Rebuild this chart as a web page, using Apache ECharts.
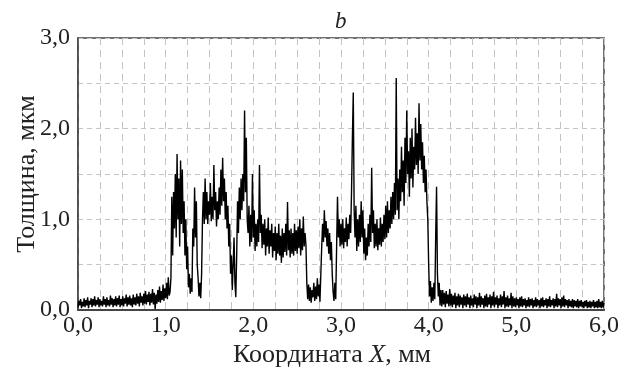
<!DOCTYPE html>
<html>
<head>
<meta charset="utf-8">
<script src="https://cdn.jsdelivr.net/npm/echarts@6/dist/echarts.min.js"></script>
<style>
  html, body { margin: 0; padding: 0; background: #fff; }
  #chart { width: 626px; height: 369px; }
</style>
</head>
<body>
<div id="chart"></div>
<script>
// профиль толщины: [X, мм ; толщина, мкм], по участкам
var baseLeft = [[0.00,0.03],[0.01,0.10],[0.02,0.05],[0.03,0.12],[0.04,0.02],[0.05,0.09],[0.06,0.04],[0.07,0.13],[0.08,0.03],[0.09,0.11],
    [0.10,0.05],[0.11,0.14],[0.12,0.02],[0.13,0.10],[0.14,0.06],[0.15,0.13],[0.16,0.03],[0.17,0.12],[0.18,0.05],[0.19,0.15],
    [0.20,0.04],[0.21,0.11],[0.22,0.06],[0.23,0.14],[0.24,0.03],[0.25,0.12],[0.26,0.05],[0.27,0.10],[0.28,0.04],[0.29,0.15],
    [0.30,0.06],[0.31,0.12],[0.32,0.03],[0.33,0.14],[0.34,0.05],[0.35,0.11],[0.36,0.04],[0.37,0.16],[0.38,0.06],[0.39,0.13],
    [0.40,0.03],[0.41,0.12],[0.42,0.05],[0.43,0.15],[0.44,0.04],[0.45,0.13],[0.46,0.06],[0.47,0.16],[0.48,0.03],[0.49,0.12],
    [0.50,0.05],[0.51,0.15],[0.52,0.04],[0.53,0.13],[0.54,0.07],[0.55,0.17],[0.56,0.04],[0.57,0.14],[0.58,0.06],[0.59,0.16],
    [0.60,0.05],[0.61,0.13],[0.62,0.03],[0.63,0.17],[0.64,0.06],[0.65,0.14],[0.66,0.05],[0.67,0.18],[0.68,0.07],[0.69,0.15],
    [0.70,0.04],[0.71,0.19],[0.72,0.08],[0.73,0.15],[0.74,0.05],[0.75,0.18],[0.76,0.07],[0.77,0.21],[0.78,0.06],[0.79,0.17],
    [0.80,0.09],[0.81,0.20],[0.82,0.05],[0.83,0.18],[0.84,0.08],[0.85,0.23],[0.86,0.06],[0.87,0.19],[0.88,0.01],[0.89,0.17],
    [0.90,0.07],[0.91,0.22],[0.92,0.09],[0.93,0.26],[0.94,0.08],[0.95,0.21],[0.96,0.11],[0.97,0.28],[0.98,0.10],[0.99,0.24],
    [1.00,0.13],[1.01,0.30],[1.02,0.12],[1.03,0.36],[1.04,0.16]];
var firstStep = [[1.05,0.20],[1.06,0.35],[1.07,1.25],[1.08,0.60],[1.09,1.30],[1.10,0.90],[1.11,1.50],[1.12,0.80],[1.13,1.72],[1.14,1.00],[1.15,1.45],[1.16,0.70],[1.17,1.65],[1.18,0.95],[1.19,1.55],[1.20,0.85],[1.21,1.20],[1.22,0.60],[1.23,1.00],[1.24,0.45],[1.25,0.70],[1.26,0.25],[1.27,0.40],[1.28,0.18],[1.29,0.35],[1.30,0.20],[1.31,0.90],[1.32,0.70],[1.33,1.35],[1.34,0.80],[1.35,1.20],[1.36,0.50],[1.37,0.35],[1.38,0.15],[1.39,0.30],[1.40,0.13],[1.41,0.40],[1.42,1.00],[1.43,1.30],[1.44,0.95],[1.45,1.45]];
var midPlateau = [[1.46,1.00],[1.47,1.30],[1.48,0.95],[1.49,1.20],[1.50,1.05],[1.51,1.40],[1.52,0.98],[1.53,1.25],[1.54,1.00],[1.55,1.60],[1.56,1.10],[1.57,1.30],[1.58,0.92],[1.59,1.20],[1.60,1.00],[1.61,1.35],[1.62,1.05],[1.63,1.55],[1.64,1.15],[1.65,1.68],[1.66,1.20],[1.67,1.45],[1.68,1.00],[1.69,1.30],[1.70,0.90],[1.71,1.15],[1.72,0.70],[1.73,0.95],[1.74,0.40],[1.75,0.60],[1.76,0.22],[1.77,0.50],[1.78,0.80],[1.79,0.30],[1.80,0.14],[1.81,0.60],[1.82,1.20],[1.83,0.85],[1.84,1.35],[1.85,1.00],[1.86,1.45],[1.87,1.10],[1.88,1.50],[1.89,1.20],[1.90,2.20],[1.91,1.30],[1.92,1.90],[1.93,1.00]];
var lowPlateau = [[1.94,0.85],[1.95,1.15],[1.96,0.70],[1.97,1.05],[1.98,0.75],[1.99,1.50],[2.00,0.80],[2.01,1.10],[2.02,0.65],[2.03,0.95],[2.04,0.70],[2.05,1.00],[2.06,0.75],[2.07,1.60],[2.08,0.85],[2.09,1.05],[2.10,0.68],[2.11,0.95],[2.12,0.72],[2.13,1.00],[2.14,0.60],[2.15,0.90],[2.16,0.70],[2.17,1.02],[2.18,0.62],[2.19,0.88],[2.20,0.70],[2.21,0.95],[2.22,0.58],[2.23,0.85],[2.24,0.65],[2.25,0.92],[2.26,0.55],[2.27,0.85],[2.28,0.62],[2.29,0.95],[2.30,0.60],[2.31,0.82],[2.32,0.52],[2.33,0.90],[2.34,0.58],[2.35,0.85],[2.36,0.64],[2.37,0.95],[2.38,0.60],[2.39,1.19],[2.40,0.66],[2.41,0.88],[2.42,0.58],[2.43,0.90],[2.44,0.62],[2.45,0.85],[2.46,0.60],[2.47,0.95],[2.48,0.65],[2.49,0.88],[2.50,0.62],[2.51,0.92],[2.52,0.68],[2.53,1.00],[2.54,0.60],[2.55,0.90],[2.56,0.66],[2.57,1.03],[2.58,0.70],[2.59,0.85],[2.60,0.72]];
var gapPart = [[2.61,0.30],[2.62,0.12],[2.63,0.28],[2.64,0.10],[2.65,0.25],[2.66,0.08],[2.67,0.22],[2.68,0.14],[2.69,0.30],[2.70,0.10],[2.71,0.26],[2.72,0.12],[2.73,0.35],[2.74,0.15],[2.75,0.28],[2.76,0.09],[2.77,0.40],[2.78,0.70],[2.79,0.95],[2.80,0.75],[2.81,1.10],[2.82,0.80],[2.83,0.98],[2.84,0.70],[2.85,0.90],[2.86,0.62],[2.87,0.85],[2.88,0.55],[2.89,0.75],[2.90,0.40],[2.91,0.20],[2.92,0.10],[2.93,0.30],[2.94,0.12],[2.95,0.70],[2.96,1.25],[2.97,0.80]];
var rightPlateau = [[2.98,1.00],[2.99,0.70],[3.00,0.95],[3.01,0.72],[3.02,1.00],[3.03,0.68],[3.04,0.90],[3.05,0.75],[3.06,1.02],[3.07,0.70],[3.08,0.95],[3.09,0.78],[3.10,1.05],[3.11,0.85],[3.12,1.30],[3.13,1.90],[3.14,2.40],[3.15,1.10],[3.16,0.80],[3.17,1.15],[3.18,0.65],[3.19,1.00],[3.20,0.70],[3.21,1.05],[3.22,0.75],[3.23,1.20],[3.24,0.80],[3.25,1.10],[3.26,0.62],[3.27,0.90],[3.28,0.55],[3.29,0.80],[3.30,0.60],[3.31,0.95],[3.32,0.70],[3.33,1.05],[3.34,0.75],[3.35,1.57],[3.36,0.85],[3.37,1.10],[3.38,0.68],[3.39,0.95],[3.40,0.70],[3.41,1.00],[3.42,0.66],[3.43,0.90],[3.44,0.72],[3.45,1.02],[3.46,0.70],[3.47,0.95],[3.48,0.75],[3.49,1.05],[3.50,0.78],[3.51,1.15],[3.52,0.80],[3.53,1.20],[3.54,0.85],[3.55,1.10],[3.56,0.90]];
var peakPart = [[3.57,1.25],[3.58,0.95],[3.59,1.30],[3.60,1.00],[3.61,1.40],[3.62,1.05],[3.63,2.56],[3.64,1.10],[3.65,1.45],[3.66,1.00],[3.67,1.55],[3.68,1.20],[3.69,1.80],[3.70,1.30],[3.71,1.65],[3.72,1.15],[3.73,1.90],[3.74,1.40],[3.75,2.20],[3.76,1.50],[3.77,1.75],[3.78,1.25],[3.79,1.90],[3.80,1.45],[3.81,2.00],[3.82,1.35],[3.83,1.80],[3.84,1.55],[3.85,2.12],[3.86,1.60],[3.87,1.95],[3.88,1.50],[3.89,2.28],[3.90,1.65],[3.91,2.05],[3.92,1.55],[3.93,1.85],[3.94,1.40],[3.95,1.70],[3.96,1.30],[3.97,1.55],[3.98,1.20],[3.99,1.00]];
var dropPart = [[4.00,0.50],[4.01,0.15],[4.02,0.32],[4.03,0.08],[4.04,0.25],[4.05,0.10],[4.06,0.30],[4.07,0.12],[4.08,0.80],[4.09,1.36],[4.10,0.40],[4.11,0.15],[4.12,0.30],[4.13,0.05],[4.14,0.22]];
var baseRight = [[4.15,0.04],[4.16,0.22],[4.17,0.06],[4.18,0.19],[4.19,0.03],[4.20,0.21],[4.21,0.07],[4.22,0.17],[4.23,0.04],[4.24,0.23],
    [4.25,0.05],[4.26,0.18],[4.27,0.03],[4.28,0.16],[4.29,0.06],[4.30,0.19],[4.31,0.02],[4.32,0.15],[4.33,0.05],[4.34,0.18],
    [4.35,0.03],[4.36,0.16],[4.37,0.06],[4.38,0.14],[4.39,0.02],[4.40,0.17],[4.41,0.05],[4.42,0.15],[4.43,0.03],[4.44,0.18],
    [4.45,0.06],[4.46,0.14],[4.47,0.02],[4.48,0.16],[4.49,0.05],[4.50,0.13],[4.51,0.03],[4.52,0.17],[4.53,0.06],[4.54,0.15],
    [4.55,0.02],[4.56,0.14],[4.57,0.05],[4.58,0.19],[4.59,0.03],[4.60,0.15],[4.61,0.06],[4.62,0.13],[4.63,0.02],[4.64,0.16],
    [4.65,0.04],[4.66,0.18],[4.67,0.03],[4.68,0.14],[4.69,0.06],[4.70,0.17],[4.71,0.02],[4.72,0.15],[4.73,0.05],[4.74,0.20],
    [4.75,0.03],[4.76,0.14],[4.77,0.06],[4.78,0.16],[4.79,0.02],[4.80,0.13],[4.81,0.05],[4.82,0.17],[4.83,0.03],[4.84,0.15],
    [4.85,0.06],[4.86,0.21],[4.87,0.02],[4.88,0.14],[4.89,0.04],[4.90,0.16],[4.91,0.03],[4.92,0.13],[4.93,0.05],[4.94,0.19],
    [4.95,0.02],[4.96,0.15],[4.97,0.04],[4.98,0.13],[4.99,0.03],[5.00,0.14],[5.01,0.05],[5.02,0.12],[5.03,0.02],[5.04,0.14],
    [5.05,0.04],[5.06,0.15],[5.07,0.03],[5.08,0.12],[5.09,0.05],[5.10,0.13],[5.11,0.02],[5.12,0.11],[5.13,0.04],[5.14,0.14],
    [5.15,0.03],[5.16,0.12],[5.17,0.05],[5.18,0.13],[5.19,0.02],[5.20,0.11],[5.21,0.04],[5.22,0.14],[5.23,0.03],[5.24,0.12],
    [5.25,0.05],[5.26,0.11],[5.27,0.02],[5.28,0.13],[5.29,0.04],[5.30,0.14],[5.31,0.03],[5.32,0.11],[5.33,0.05],[5.34,0.13],
    [5.35,0.02],[5.36,0.12],[5.37,0.04],[5.38,0.15],[5.39,0.03],[5.40,0.11],[5.41,0.05],[5.42,0.13],[5.43,0.02],[5.44,0.12],
    [5.45,0.04],[5.46,0.18],[5.47,0.03],[5.48,0.13],[5.49,0.05],[5.50,0.12],[5.51,0.02],[5.52,0.14],[5.53,0.04],[5.54,0.16],
    [5.55,0.03],[5.56,0.12],[5.57,0.05],[5.58,0.11],[5.59,0.02],[5.60,0.12],[5.61,0.04],[5.62,0.10],[5.63,0.03],[5.64,0.12],
    [5.65,0.02],[5.66,0.11],[5.67,0.04],[5.68,0.10],[5.69,0.03],[5.70,0.12],[5.71,0.02],[5.72,0.10],[5.73,0.04],[5.74,0.11],
    [5.75,0.03],[5.76,0.09],[5.77,0.02],[5.78,0.10],[5.79,0.04],[5.80,0.11],[5.81,0.02],[5.82,0.09],[5.83,0.03],[5.84,0.10],
    [5.85,0.02],[5.86,0.09],[5.87,0.04],[5.88,0.11],[5.89,0.02],[5.90,0.09],[5.91,0.03],[5.92,0.10],[5.93,0.02],[5.94,0.12],
    [5.95,0.03],[5.96,0.09],[5.97,0.02],[5.98,0.10],[5.99,0.03],[6.00,0.08]];

var profile = [].concat(baseLeft, firstStep, midPlateau, lowPlateau, gapPart, rightPlateau, peakPart, dropPart, baseRight);

var serif = 'Liberation Serif';
// подписи только на целых значениях, десятичная запятая
function tickFmt(v) {
    if (Math.abs(v - Math.round(v)) > 1e-6) return '';
    return v.toFixed(1).replace('.', ',');
}

var myChart = echarts.init(document.getElementById('chart'), null, { renderer: 'canvas' });
myChart.setOption({
    animation: false,
    title: {
        text: 'b',
        left: 330,
        top: 5,
        textStyle: { fontFamily: serif, fontStyle: 'italic', fontWeight: 'normal', fontSize: 23, color: '#222' }
    },
    grid: {
        left: 78,
        right: 22,
        top: 38,
        bottom: 59,
        outerBoundsMode: 'none',
        containLabel: false,
        show: true,
        borderColor: '#444',
        borderWidth: 1.5,
        backgroundColor: '#fff'
    },
    xAxis: {
        type: 'value',
        min: 0,
        max: 6,
        interval: 0.25,
        name: 'Координата {i|X}, мм',
        nameLocation: 'middle',
        nameGap: 32,
        nameMoveOverlap: false,
        nameTextStyle: {
            fontFamily: serif, fontSize: 26, color: '#222',
            padding: [0, 18, 0, 0],
            rich: { i: { fontFamily: serif, fontSize: 26, fontStyle: 'italic', color: '#222' } }
        },
        axisLine: { show: true, lineStyle: { color: '#444', width: 2 } },
        axisTick: { show: false },
        axisLabel: { formatter: tickFmt, fontFamily: serif, fontSize: 24, color: '#222', margin: 4, showMinLabel: true, showMaxLabel: true },
        splitLine: { show: true, lineStyle: { color: '#c4c4c4', type: [7, 5], width: 1 } }
    },
    yAxis: {
        type: 'value',
        min: 0,
        max: 3,
        interval: 0.5,
        name: 'Толщина, мкм',
        nameLocation: 'middle',
        nameGap: 38,
        nameMoveOverlap: false,
        nameTextStyle: { fontFamily: serif, fontSize: 26, color: '#222' },
        axisLine: { show: true, lineStyle: { color: '#444', width: 1.5 } },
        axisTick: { show: false },
        axisLabel: { formatter: tickFmt, fontFamily: serif, fontSize: 24, color: '#222', margin: 8 },
        splitLine: { show: true, lineStyle: { color: '#c4c4c4', type: [5, 4], width: 1 } }
    },
    series: [
        {
            type: 'line',
            data: profile,
            symbol: 'none',
            lineStyle: { color: '#000', width: 1.4 },
            z: 3
        }
    ]
});
</script>
</body>
</html>
